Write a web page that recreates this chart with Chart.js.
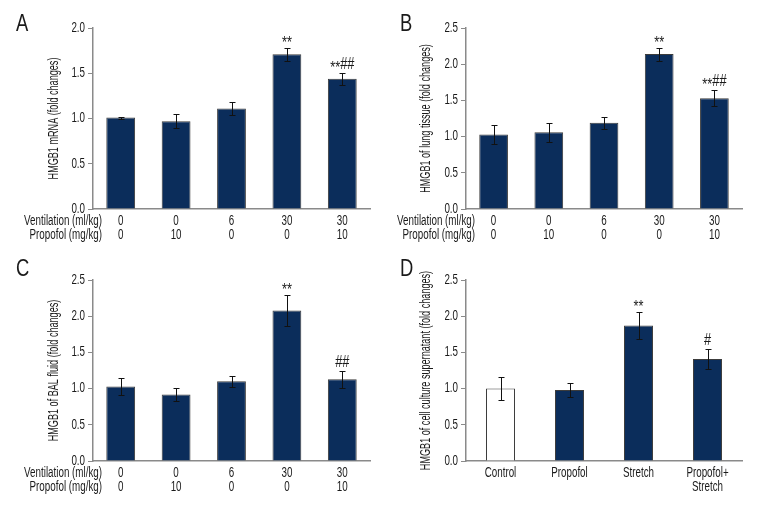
<!DOCTYPE html>
<html>
<head>
<meta charset="utf-8">
<script src="https://cdn.jsdelivr.net/npm/chart.js@4"></script>
<style>
  body { margin: 0; background: #fff; }
  #wrap { position: relative; width: 768px; height: 516px; }
  canvas { position: absolute; }
</style>
</head>
<body>
<div id="wrap">
  <canvas id="pA" width="384" height="258" style="left:0;top:0"></canvas>
  <canvas id="pB" width="384" height="258" style="left:384px;top:0"></canvas>
  <canvas id="pC" width="384" height="258" style="left:0;top:258px"></canvas>
  <canvas id="pD" width="384" height="258" style="left:384px;top:258px"></canvas>
</div>
<script>
// groups for panels A-C
const ventLabels = ['0', '0', '6', '30', '30']
const propLabels = ['0', '10', '0', '0', '10']
const rowHeaders = ['Ventilation (ml/kg)', 'Propofol (mg/kg)']
// panel D groups
const cellLabels = [['Control'], ['Propofol'], ['Stretch'], ['Propofol+', 'Stretch']]

const valuesA = [1.01, 0.97, 1.11, 1.71, 1.44]
const errorsA = [0.01, 0.08, 0.07, 0.07, 0.065]
const marksA = ['', '', '', '**', '**##']

const valuesB = [1.03, 1.06, 1.19, 2.14, 1.53]
const errorsB = [0.13, 0.13, 0.085, 0.09, 0.11]
const marksB = ['', '', '', '**', '**##']

const valuesC = [1.03, 0.92, 1.10, 2.08, 1.13]
const errorsC = [0.12, 0.09, 0.08, 0.21, 0.12]
const marksC = ['', '', '', '**', '##']

const valuesD = [1.00, 0.98, 1.87, 1.41]
const errorsD = [0.155, 0.10, 0.19, 0.135]
const marksD = ['', '', '**', '#']

const NAVY = '#0b2d5b'
const AXIS = '#8a8a8a'
const TXT = '#1a1a1a'
const FONT = '"Liberation Sans", Arial, sans-serif'

// text helper: draws narrowed text (the original uses a condensed face)
function narrowText(ctx, str, x, y, size, align, sx = 0.7) {
    ctx.save()
    ctx.font = size + 'px ' + FONT
    ctx.fillStyle = TXT
    ctx.textAlign = align
    ctx.textBaseline = 'middle'
    ctx.translate(x, y)
    ctx.scale(sx, 1)
    ctx.fillText(str, 0, 0)
    ctx.restore()
}

// significance marks: asterisks sit high in this font, so push them down to the # centre
function markText(ctx, str, x, y) {
    const size = 16, sx = 0.8
    ctx.save()
    ctx.font = size + 'px ' + FONT
    const w = ctx.measureText(str).width * sx
    let cx = x - w / 2
    for (const ch of str) {
        const cw = ctx.measureText(ch).width * sx
        narrowText(ctx, ch, cx, ch === '*' ? y + 4 : y, size, 'left', sx)
        cx += cw
    }
    ctx.restore()
}

// draws error bars, significance marks, labels, y title, row headers and panel letter
const panelPlugin = {
    id: 'panelExtras',
    afterDatasetsDraw(chart) {
        const cfg = chart.options.plugins.panelExtras
        const ctx = chart.ctx
        const meta = chart.getDatasetMeta(0)
        const y = chart.scales.y
        ctx.save()
        ctx.strokeStyle = '#111'
        ctx.lineWidth = 1
        meta.data.forEach((bar, i) => {
            const v = cfg.values[i], e = cfg.errors[i]
            const top = Math.round(y.getPixelForValue(v + e)) + 0.5
            const bot = Math.round(y.getPixelForValue(v - e)) + 0.5
            const x = Math.round(bar.x) + 0.5
            ctx.beginPath()
            ctx.moveTo(x, top); ctx.lineTo(x, bot)
            ctx.moveTo(x - 3, top); ctx.lineTo(x + 3, top)
            ctx.moveTo(x - 3, bot); ctx.lineTo(x + 3, bot)
            ctx.stroke()
            if (cfg.marks[i]) markText(ctx, cfg.marks[i], bar.x, top - 9)
        })
        ctx.restore()
    },
    afterDraw(chart) {
        const cfg = chart.options.plugins.panelExtras
        const ctx = chart.ctx
        const area = chart.chartArea
        const y = chart.scales.y
        const x = chart.scales.x
        // panel letter
        narrowText(ctx, cfg.letter, cfg.letterX, cfg.letterY, 23, 'left', 0.8)
        // y tick labels
        y.ticks.forEach((t) => {
            narrowText(ctx, t.value.toFixed(1), area.left - 8, y.getPixelForValue(t.value), 14, 'right')
        })
        // x category labels
        chart.data.labels.forEach((lab, i) => {
            const cx = x.getPixelForValue(i)
            lab.forEach((line, r) => narrowText(ctx, line, cx, area.bottom + 12 + r * 14, 14, 'center'))
        })
        // y axis title
        ctx.save()
        ctx.translate(cfg.titleX, (area.top + area.bottom) / 2)
        ctx.rotate(-Math.PI / 2)
        narrowText(ctx, cfg.title, 0, 0, 14, 'center', 0.65)
        ctx.restore()
        if (cfg.rows) {
            rowHeaders.forEach((h, r) => {
                narrowText(ctx, h, area.left + 9, area.bottom + 12 + r * 14, 14, 'right')
            })
        }
    }
}

function makePanel(id, labels, values, errors, marks, opts) {
    const colors = values.map((v, i) => (opts.white && i === 0) ? '#ffffff' : NAVY)
    return new Chart(document.getElementById(id), {
        type: 'bar',
        data: {
            labels: labels,
            datasets: [{
                data: values,
                backgroundColor: colors,
                borderColor: '#3c3c3c',
                borderWidth: 1,
                barPercentage: opts.barPct,
                categoryPercentage: 1
            }]
        },
        options: {
            responsive: false,
            animation: false,
            devicePixelRatio: 1,
            layout: { padding: { left: 0, top: opts.top, right: opts.right, bottom: 0 } },
            plugins: {
                legend: { display: false },
                tooltip: { enabled: false },
                panelExtras: {
                    values: values, errors: errors, marks: marks,
                    letter: opts.letter, letterX: opts.letterX, letterY: opts.letterY,
                    title: opts.title, titleX: opts.titleX, rows: opts.rows
                }
            },
            scales: {
                x: {
                    afterFit: (s) => { s.height = opts.xHeight },
                    grid: { display: true, drawOnChartArea: false, drawTicks: false, color: 'rgba(0,0,0,0)' },
                    border: { display: true, color: AXIS, width: 1.5 },
                    ticks: { display: false }
                },
                y: {
                    min: 0, max: opts.ymax,
                    afterFit: (s) => { s.width = opts.left },
                    grid: { display: true, drawOnChartArea: false, drawTicks: true, tickLength: 5, color: AXIS, lineWidth: 1 },
                    border: { display: true, color: AXIS, width: 1.5 },
                    ticks: { display: false, stepSize: 0.5 }
                }
            }
        },
        plugins: [panelPlugin]
    })
}

const abcLabels = ventLabels.map((v, i) => [v, propLabels[i]])

makePanel('pA', abcLabels, valuesA, errorsA, marksA, {
    letter: 'A', letterX: 16, letterY: 25, title: 'HMGB1 mRNA (fold changes)', titleX: 54,
    top: 28, right: 14, left: 93, xHeight: 49, ymax: 2.0, barPct: 0.52, rows: true
})
makePanel('pB', abcLabels, valuesB, errorsB, marksB, {
    letter: 'B', letterX: 16, letterY: 25, title: 'HMGB1 of lung tissue (fold changes)', titleX: 42,
    top: 28, right: 26, left: 82, xHeight: 49, ymax: 2.5, barPct: 0.52, rows: true
})
makePanel('pC', abcLabels, valuesC, errorsC, marksC, {
    letter: 'C', letterX: 16, letterY: 12, title: 'HMGB1 of BAL fluid (fold changes)', titleX: 54,
    top: 22, right: 14, left: 93, xHeight: 55, ymax: 2.5, barPct: 0.52, rows: true
})
makePanel('pD', cellLabels, valuesD, errorsD, marksD, {
    letter: 'D', letterX: 16, letterY: 12, title: 'HMGB1 of cell culture supernatant (fold changes)', titleX: 42,
    top: 22, right: 26, left: 82, xHeight: 55, ymax: 2.5, barPct: 0.42, rows: false, white: true
})
</script>
</body>
</html>
